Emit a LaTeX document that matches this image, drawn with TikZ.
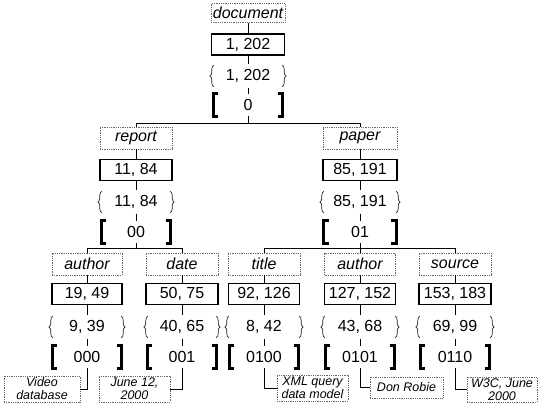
\documentclass[tikz,border=0pt]{standalone}
\usepackage{fontspec}
\setmainfont{Liberation Sans}
\setsansfont{Liberation Sans}
\usetikzlibrary{decorations.pathreplacing}
\tikzset{
  lblbox/.style={draw=black!60, densely dotted, line width=0.8bp, font=\fontsize{16bp}{18bp}\selectfont\itshape,
    minimum width=72bp, minimum height=22bp, inner sep=0pt},
  numbox/.style={draw=black, line width=1.3bp, font=\fontsize{16bp}{18bp}\selectfont,
    minimum width=72bp, minimum height=21bp, inner sep=0pt},
  brcrow/.style={font=\fontsize{16bp}{18bp}\selectfont, minimum width=68bp, minimum height=21bp, inner sep=0pt},
  brkrow/.style={font=\fontsize{16bp}{18bp}\selectfont, minimum width=69bp, minimum height=22bp, inner sep=0pt},
  leafbox/.style={draw=black!60, densely dotted, line width=0.8bp, font=\fontsize{12.5bp}{13bp}\selectfont\itshape,
    align=center, minimum width=74bp, minimum height=25bp, inner sep=0pt},
  conn/.style={line width=0.9bp},
  brcdraw/.style={draw=black!85, line width=0.7bp, decorate, decoration={brace, amplitude=4bp}},
  brkdraw/.style={line width=2.8bp, line cap=butt, line join=miter}
}
\newcommand\drawbrk[1]{%
  \draw[brkdraw] ([xshift=5bp]#1.north west) -- (#1.north west) -- (#1.south west) -- ([xshift=5bp]#1.south west);
  \draw[brkdraw] ([xshift=-5bp]#1.north east) -- (#1.north east) -- (#1.south east) -- ([xshift=-5bp]#1.south east);}
\newcommand\drawbrc[1]{%
  \draw[brcdraw] ([yshift=1bp]#1.south west) -- ([yshift=-1bp]#1.north west);
  \draw[brcdraw] ([yshift=-1bp]#1.north east) -- ([yshift=1bp]#1.south east);}
\begin{document}
\begin{tikzpicture}[x=1bp,y=-1bp]
\useasboundingbox (0,0) rectangle (538,404);
% level 0
\node[lblbox, minimum width=74bp, minimum height=19bp] (d0) at (248,13) {document};
\node[numbox, minimum width=73bp] (n0) at (248,44.5) {1, 202};
\node[brcrow, minimum height=23bp] (c0) at (248,76) {1, 202};
\node[brkrow] (k0) at (248,105) {0};
% level 1
\node[lblbox] (rL) at (136,138) {report};
\node[numbox] (rN) at (136,170) {11, 84};
\node[brcrow, minimum height=23bp] (rC) at (136,202) {11, 84};
\node[brkrow] (rK) at (136,232) {00};
\node[lblbox, minimum width=74bp] (pL) at (360,138) {paper};
\node[numbox, minimum width=74bp] (pN) at (360,170) {85, 191};
\node[brcrow, minimum width=72bp, minimum height=23bp] (pC) at (360,202) {85, 191};
\node[brkrow, minimum width=72bp] (pK) at (360,232) {01};
% level 2
\node[lblbox, minimum width=70bp] (aL) at (87,264) {author};
\node[numbox, minimum width=70bp] (aN) at (87,294) {19, 49};
\node[brcrow, minimum height=23bp] (aC) at (87,327) {9, 39};
\node[brkrow] (aK) at (87,357) {000};
\node[lblbox] (dL) at (182,264) {date};
\node[numbox] (dN) at (182,294) {50, 75};
\node[brcrow, minimum height=23bp] (dC) at (182,327) {40, 65};
\node[brkrow] (dK) at (182,357) {001};
\node[lblbox] (tL) at (264,264) {title};
\node[numbox, minimum width=71bp] (tN) at (264,294) {92, 126};
\node[brcrow, minimum width=70bp, minimum height=23bp] (tC) at (264,327) {8, 42};
\node[brkrow] (tK) at (264,357) {0100};
\node[lblbox, minimum width=71bp] (bL) at (360,264) {author};
\node[numbox, minimum width=71bp] (bN) at (360,294) {127, 152};
\node[brcrow, minimum width=70bp, minimum height=23bp] (bC) at (360,327) {43, 68};
\node[brkrow] (bK) at (360,357) {0101};
\node[lblbox] (sL) at (455,264) {source};
\node[numbox] (sN) at (455,294) {153, 183};
\node[brcrow, minimum width=70bp, minimum height=23bp] (sC) at (455,327) {69, 99};
\node[brkrow] (sK) at (455,357) {0110};
% leaves
\node[leafbox, minimum width=76bp, minimum height=26bp] (va) at (42,389) {Video\\database};
\node[leafbox, minimum width=71bp, minimum height=26bp] (vd) at (134.5,389) {June 12,\\2000};
\node[leafbox, minimum width=71bp, minimum height=26bp] (vt) at (312.5,388) {XML query\\data model};
\node[leafbox, minimum width=73bp, minimum height=21bp] (vb) at (406.5,387.5) {Don Robie};
\node[leafbox, minimum width=70bp, minimum height=25bp] (vs) at (502,389.5) {W3C, June\\2000};
% braces and brackets
\foreach \n in {c0,rC,pC,aC,dC,tC,bC,sC} {\drawbrc{\n}}
\foreach \n in {k0,rK,pK,aK,dK,tK,bK,sK} {\drawbrk{\n}}
% vertical chains
\draw[conn] (d0) -- (n0) -- (c0) -- (k0);
\draw[conn] (rL) -- (rN) -- (rC) -- (rK);
\draw[conn] (pL) -- (pN) -- (pC) -- (pK);
\draw[conn] (aL) -- (aN) -- (aC) -- (aK);
\draw[conn] (dL) -- (dN) -- (dC) -- (dK);
\draw[conn] (tL) -- (tN) -- (tC) -- (tK);
\draw[conn] (bL) -- (bN) -- (bC) -- (bK);
\draw[conn] (sL) -- (sN) -- (sC) -- (sK);
% buses
\coordinate (j0) at (248,123);
\coordinate (j1) at (136,248);
\coordinate (j2) at (360,248);
\draw[conn] (k0.south) -- (j0);
\draw[conn] (rL.north) |- (j0);
\draw[conn] (pL.north) |- (j0);
\draw[conn] (rK.south) -- (j1);
\draw[conn] (aL.north) |- (j1);
\draw[conn] (dL.north) |- (j1);
\draw[conn] (pK.south) -- (j2);
\draw[conn] (tL.north) |- (j2);
\draw[conn] (bL.north) |- (j2);
\draw[conn] (sL.north) |- (j2);
% leaf connectors
\draw[conn] (aK.south) |- (va.east);
\draw[conn] (dK.south) |- (vd.east);
\draw[conn] (tK.south) |- (vt.west);
\draw[conn] (bK.south) |- (vb.west);
\draw[conn] (sK.south) |- (vs.west);
\end{tikzpicture}
\end{document}
